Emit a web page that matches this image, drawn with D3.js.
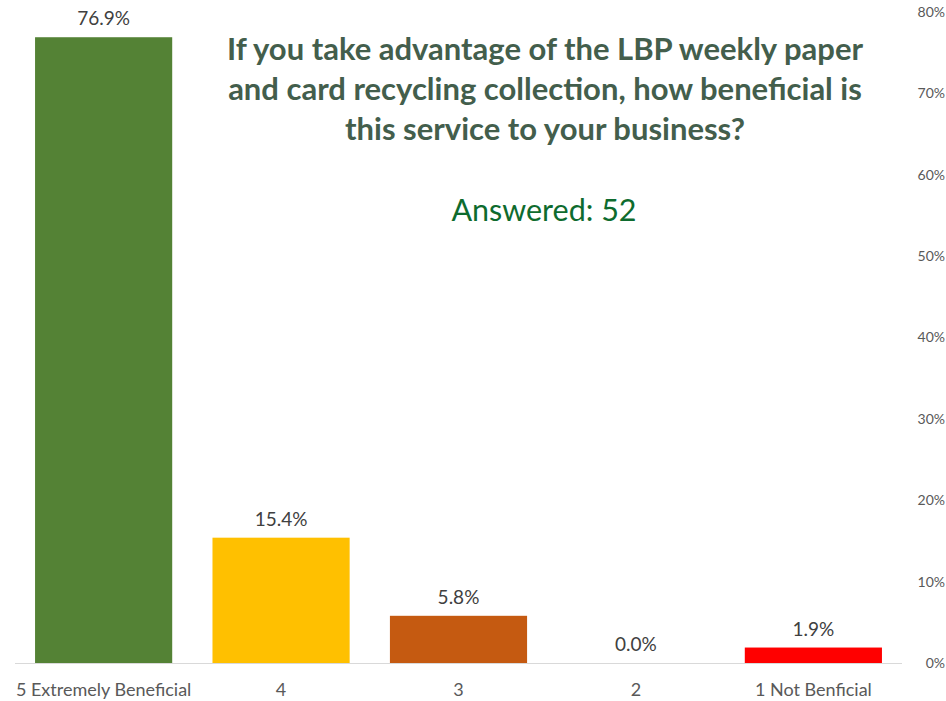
<!DOCTYPE html>
<html><head><meta charset="utf-8">
<script src="https://cdn.jsdelivr.net/npm/d3@7"></script>
<style>body{margin:0;background:#fff;} svg{display:block;}</style>
</head><body>
<svg id="c" width="946" height="701"></svg>
<script>
const categories = ["5 Extremely Beneficial","4","3","2","1 Not Benficial"];
const values = [76.9, 15.4, 5.8, 0.0, 1.9];
const colors = ["#548235","#FFC000","#C55A11","#A5A5A5","#FF0000"];
const yTicks = [0,10,20,30,40,50,60,70,80];
const titleLines = ["If you take advantage of the LBP weekly paper","and card recycling collection, how beneficial is","this service to your business?"];
const subtitle = "Answered: 52";

const svg = d3.select("#c");
const font = "Lato, 'Open Sans', sans-serif";
const x = d3.scaleBand().domain(categories).range([15, 902]).paddingInner(0.227).paddingOuter(0.113);
const y = d3.scaleLinear().domain([0,80]).range([663, 12]);

// bars
svg.selectAll("rect.bar").data(values).join("rect")
  .attr("x",(d,i)=>x(categories[i])).attr("width",x.bandwidth())
  .attr("y",d=>y(d)).attr("height",d=>y(0)-y(d)).attr("fill",(d,i)=>colors[i]);

// baseline
svg.append("line").attr("x1",15).attr("x2",902).attr("y1",y(0)+0.5).attr("y2",y(0)+0.5)
  .attr("stroke","#D9D9D9").attr("stroke-width",1);

// value labels
svg.selectAll("text.val").data(values).join("text")
  .attr("x",(d,i)=>x(categories[i])+x.bandwidth()/2).attr("y",d=>y(d)-12)
  .attr("text-anchor","middle").attr("font-family",font).attr("font-size",19)
  .attr("fill","#404040").text(d=>d.toFixed(1)+"%");

// category labels
const xAxis = d3.axisBottom(x).tickSize(0).tickPadding(0);
const gx = svg.append("g").attr("transform",`translate(0,${y(0)})`).call(xAxis);
gx.select(".domain").remove();
gx.selectAll("text").attr("font-family",font).attr("font-size",18).attr("fill","#595959").attr("dy",null).attr("y",33);

// right axis
const yAxis = d3.axisRight(y).tickValues(yTicks).tickSize(0).tickFormat(d=>d+"%");
const gy = svg.append("g").attr("transform","translate(945,0)").call(yAxis);
gy.select(".domain").remove();
gy.selectAll("text").attr("font-family",font).attr("font-size",14).attr("fill","#595959").attr("text-anchor","end").attr("x",0);

// title
svg.selectAll("text.title").data(titleLines).join("text")
  .attr("x",545).attr("y",(d,i)=>60+i*40).attr("text-anchor","middle")
  .attr("font-family",font).attr("font-weight","bold").attr("font-size",31)
  .attr("fill","#435E4C").text(d=>d);

svg.append("text").attr("x",544).attr("y",221).attr("text-anchor","middle")
  .attr("font-family",font).attr("font-size",30.5).attr("fill","#0E6B2E").text(subtitle);
</script>
</body></html>
